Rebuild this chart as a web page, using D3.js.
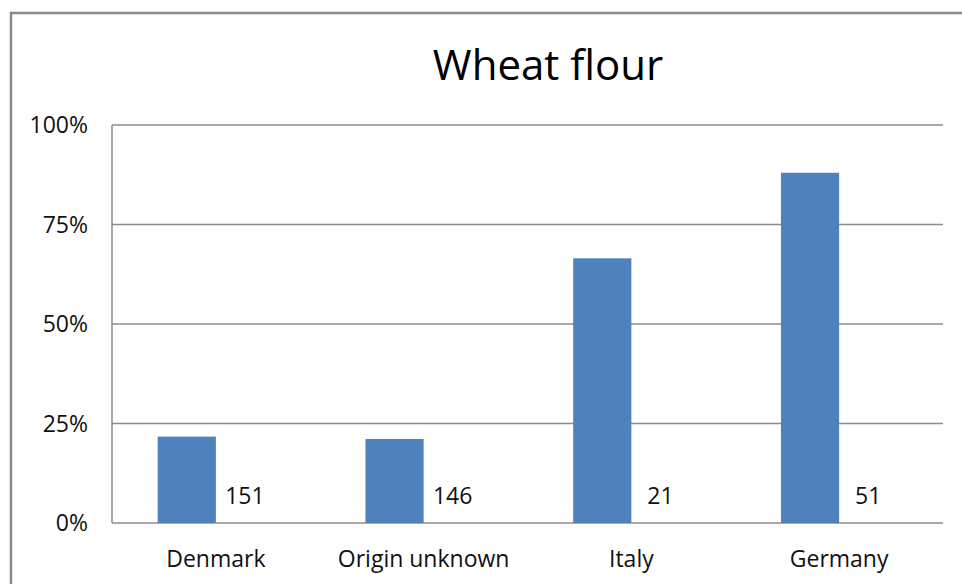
<!DOCTYPE html>
<html>
<head>
<meta charset="utf-8">
<script src="https://cdn.jsdelivr.net/npm/d3@7"></script>
<style>
  body { margin: 0; background: #fff; }
  svg { display: block; font-family: "Open Sans", sans-serif; }
</style>
</head>
<body>
<svg width="962" height="584"></svg>
<script>
// data
var categories = ["Denmark", "Origin unknown", "Italy", "Germany"];
var shares = [0.217, 0.211, 0.665, 0.880];
var counts = [151, 146, 21, 51];
var yTicks = [0, 0.25, 0.5, 0.75, 1];
var title = "Wheat flour";

var svg = d3.select("svg");
var plotLeft = 112, plotRight = 943, plotTop = 125, plotBottom = 523;

// outer chart frame, runs off the right and bottom edge
svg.append("rect")
  .attr("x", 11).attr("y", 13)
  .attr("width", 1100).attr("height", 700)
  .attr("fill", "none")
  .attr("stroke", "#8a8a8a")
  .attr("stroke-width", 2.5);

var x = d3.scaleBand().domain(categories).range([plotLeft, plotRight])
  .paddingInner(0.44).paddingOuter(0.22);
var sub = d3.scaleBand().domain(["share", "count"]).range([0, x.bandwidth()]);
var y = d3.scaleLinear().domain([0, 1]).range([plotBottom, plotTop]);

// gridlines
svg.append("g").selectAll("line").data(yTicks).join("line")
  .attr("x1", plotLeft).attr("x2", plotRight)
  .attr("y1", function(d) { return y(d); })
  .attr("y2", function(d) { return y(d); })
  .attr("stroke", "#8c8c8c")
  .attr("stroke-width", 1.5);

// left axis line
svg.append("line")
  .attr("x1", plotLeft).attr("x2", plotLeft)
  .attr("y1", y(1)).attr("y2", y(0))
  .attr("stroke", "#8c8c8c")
  .attr("stroke-width", 1.5);

// y tick labels
svg.append("g").selectAll("text").data(yTicks).join("text")
  .attr("x", plotLeft - 24)
  .attr("y", function(d) { return y(d); })
  .attr("dy", "0.35em")
  .attr("text-anchor", "end")
  .attr("font-size", 23)
  .attr("fill", "#111")
  .text(d3.format(".0%"));

// bars
svg.append("g").selectAll("rect").data(categories).join("rect")
  .attr("x", function(d) { return x(d) + sub("share"); })
  .attr("width", sub.bandwidth())
  .attr("y", function(d, i) { return y(shares[i]); })
  .attr("height", function(d, i) { return y(0) - y(shares[i]); })
  .attr("fill", "#4f81bd");

// count labels, sitting where a second (hidden) series would be
svg.append("g").selectAll("text").data(categories).join("text")
  .attr("x", function(d) { return x(d) + sub("count") + sub.bandwidth() / 2; })
  .attr("y", y(0) - 19)
  .attr("text-anchor", "middle")
  .attr("font-size", 23)
  .attr("fill", "#111")
  .text(function(d, i) { return counts[i]; });

// category labels
svg.append("g").selectAll("text").data(categories).join("text")
  .attr("x", function(d) { return x(d) + x.bandwidth() / 2; })
  .attr("y", y(0) + 44)
  .attr("text-anchor", "middle")
  .attr("font-size", 23)
  .attr("fill", "#111")
  .text(function(d) { return d; });

// title
svg.append("text")
  .attr("x", 548).attr("y", 80)
  .attr("text-anchor", "middle")
  .attr("font-size", 42)
  .attr("fill", "#000")
  .text(title);
</script>
</body>
</html>
